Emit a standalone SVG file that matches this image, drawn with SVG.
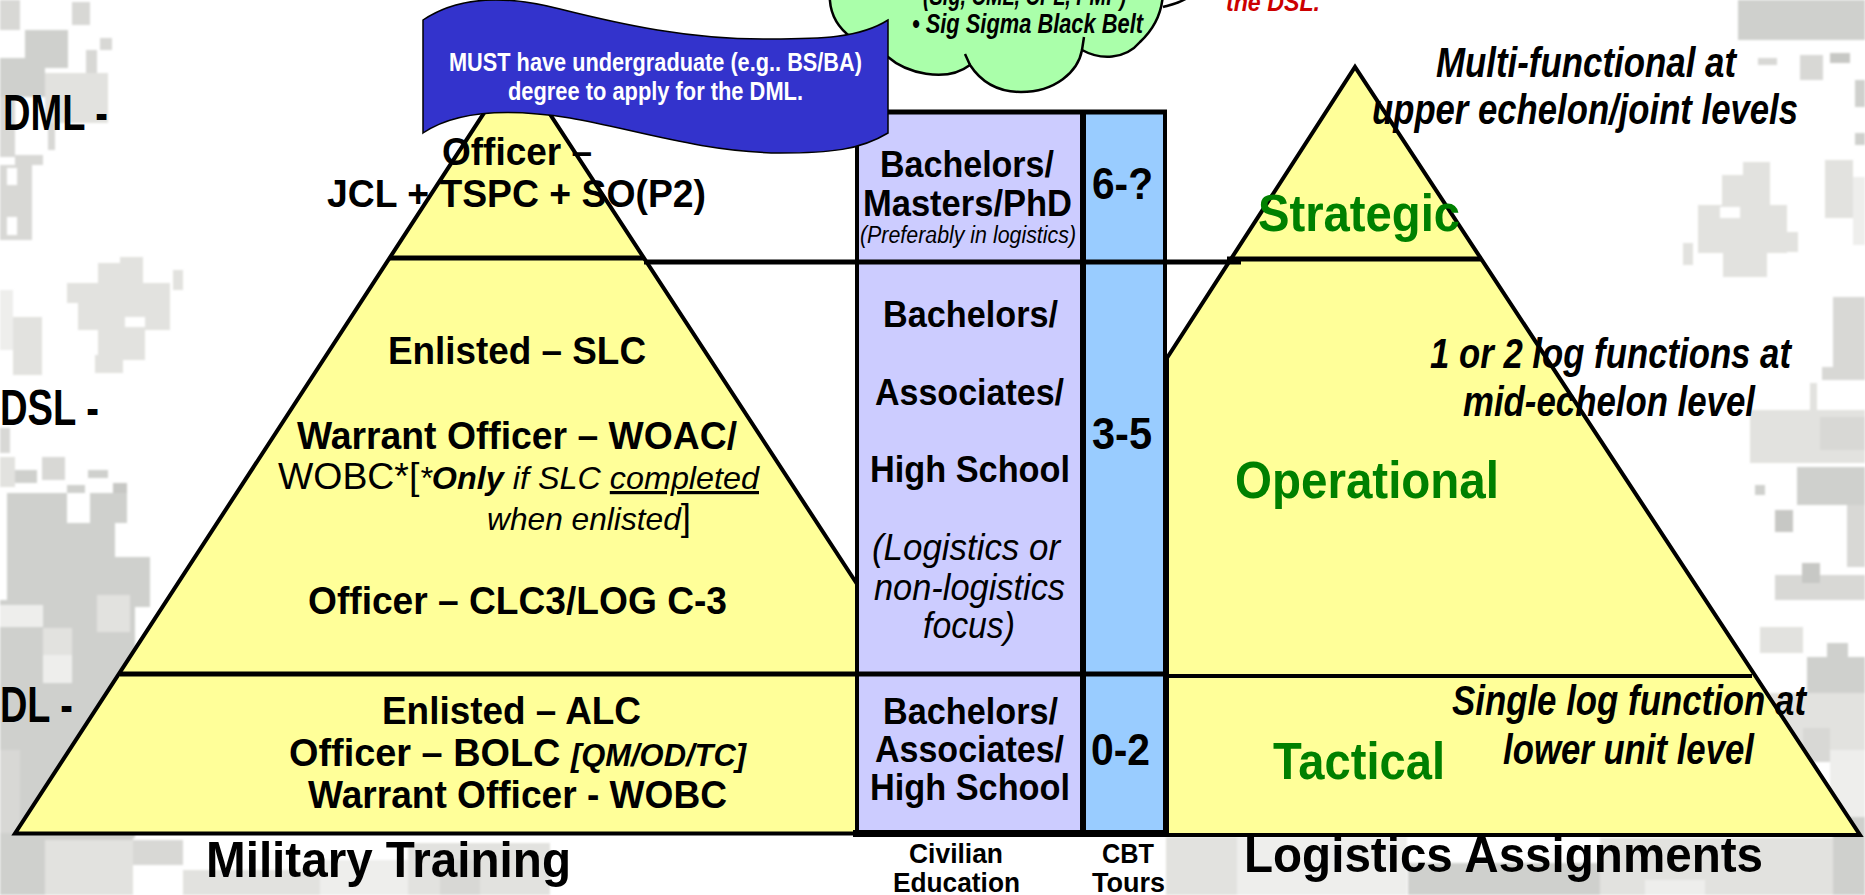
<svg xmlns="http://www.w3.org/2000/svg" width="1865" height="895" viewBox="0 0 1865 895">
<defs><filter id="soft" x="0" y="0" width="100%" height="100%"><feGaussianBlur stdDeviation="0.9"/></filter></defs>
<style>
text{font-family:"Liberation Sans",Arial,sans-serif;font-weight:700;fill:#000;white-space:pre}
.it{font-style:italic}
.reg{font-weight:400}
.gr{fill:#008000;font-size:52px}
.wh{fill:#fff;font-size:25px}
.b34{font-size:38px}
.b44{font-size:50px}
.b33{font-size:37px}
.i38{font-size:43px;font-style:italic}
.sh{stroke:#000;stroke-width:4;stroke-linejoin:miter}
.a{fill:#cfd0cd}.b{fill:#d8d8d5}.c{fill:#e2e2df}.d{fill:#eeeeec}.e{fill:#c7c8c5}.w{fill:#fff}
</style>
<rect width="1865" height="895" fill="#fff"/>
<g id="background" filter="url(#soft)">
<rect class="b" x="0" y="0" width="20" height="30"/><rect class="b" x="72" y="2" width="18" height="23"/>
<rect class="a" x="25" y="30" width="43" height="38"/><rect class="a" x="0" y="58" width="45" height="39"/>
<rect class="c" x="45" y="73" width="63" height="50"/><rect class="b" x="86" y="50" width="11" height="23"/><rect class="b" x="100" y="38" width="12" height="12"/>
<rect class="b" x="0" y="97" width="15" height="60"/><rect class="b" x="15" y="155" width="28" height="10"/><rect class="b" x="0" y="165" width="32" height="75"/>
<rect class="w" x="7" y="168" width="10" height="17"/><rect class="w" x="7" y="217" width="10" height="18"/><rect class="b" x="48" y="123" width="7" height="27"/>
<rect class="c" x="120" y="257" width="23" height="26"/><rect class="c" x="98" y="263" width="45" height="20"/><rect class="c" x="67" y="283" width="103" height="20"/>
<rect class="c" x="78" y="303" width="92" height="27"/><rect class="c" x="98" y="330" width="47" height="30"/><rect class="c" x="95" y="355" width="28" height="18"/>
<rect class="c" x="173" y="270" width="10" height="20"/><rect class="w" x="125" y="317" width="20" height="10"/>
<rect class="c" x="13" y="317" width="29" height="58"/><rect class="d" x="0" y="290" width="13" height="60"/><rect class="b" x="0" y="428" width="10" height="25"/>
<rect class="c" x="0" y="457" width="15" height="30"/><rect class="b" x="42" y="457" width="23" height="23"/><rect class="a" x="15" y="470" width="22" height="13"/>
<rect class="a" x="88" y="470" width="20" height="8"/><rect class="a" x="67" y="485" width="18" height="8"/><rect class="e" x="113" y="483" width="14" height="40"/>
<rect class="a" x="7" y="493" width="60" height="30"/><rect class="a" x="90" y="493" width="37" height="30"/>
<rect class="a" x="7" y="523" width="108" height="34"/><rect class="a" x="7" y="557" width="143" height="50"/><rect class="a" x="0" y="600" width="135" height="238"/>
<rect class="d" x="0" y="605" width="43" height="22"/><rect class="c" x="43" y="628" width="29" height="27"/><rect class="d" x="43" y="655" width="29" height="28"/>
<rect class="c" x="97" y="595" width="33" height="37"/><rect class="b" x="0" y="750" width="20" height="83"/>
<rect class="a" x="0" y="838" width="133" height="57"/><rect class="c" x="45" y="840" width="88" height="55"/><rect class="b" x="133" y="840" width="50" height="25"/>
<rect class="c" x="183" y="870" width="137" height="25"/><rect class="d" x="320" y="860" width="90" height="35"/><rect class="c" x="408" y="843" width="142" height="52"/><rect class="b" x="440" y="860" width="40" height="35"/>
<rect class="c" x="1166" y="837" width="71" height="58"/><rect class="d" x="1237" y="837" width="170" height="58"/><rect class="a" x="1408" y="863" width="237" height="32"/>
<rect class="c" x="1600" y="838" width="265" height="57"/><rect class="d" x="1645" y="880" width="60" height="15"/><rect class="a" x="1833" y="817" width="32" height="78"/>
<rect class="a" x="1738" y="0" width="127" height="40"/><rect class="b" x="1758" y="58" width="19" height="7"/><rect class="b" x="1800" y="55" width="23" height="25"/>
<rect class="e" x="1830" y="53" width="20" height="10"/><rect class="a" x="1855" y="80" width="10" height="27"/><rect class="a" x="1855" y="133" width="10" height="12"/>
<rect class="c" x="1743" y="162" width="27" height="15"/><rect class="c" x="1722" y="175" width="48" height="30"/><rect class="c" x="1698" y="205" width="89" height="48"/>
<rect class="c" x="1787" y="232" width="11" height="20"/><rect class="c" x="1723" y="253" width="44" height="24"/><rect class="c" x="1683" y="243" width="10" height="22"/><rect class="w" x="1720" y="207" width="20" height="11"/>
<rect class="c" x="1825" y="160" width="28" height="58"/><rect class="d" x="1853" y="177" width="12" height="68"/>
<rect class="b" x="1833" y="297" width="32" height="76"/><rect class="b" x="1822" y="367" width="43" height="13"/><rect class="c" x="1810" y="383" width="7" height="27"/>
<rect class="c" x="1750" y="410" width="115" height="53"/><rect class="b" x="1820" y="417" width="45" height="33"/>
<rect class="a" x="1797" y="467" width="68" height="38"/><rect class="b" x="1847" y="505" width="18" height="62"/><rect class="a" x="1755" y="485" width="10" height="10"/>
<rect class="e" x="1775" y="510" width="18" height="22"/><rect class="b" x="1775" y="575" width="90" height="25"/><rect class="e" x="1802" y="563" width="18" height="20"/>
<rect class="c" x="1760" y="627" width="43" height="26"/><rect class="a" x="1807" y="657" width="58" height="36"/><rect class="a" x="1827" y="643" width="21" height="14"/>
<rect class="c" x="1767" y="693" width="98" height="57"/><rect class="b" x="1803" y="728" width="27" height="34"/><rect class="d" x="1830" y="750" width="35" height="67"/>
</g>
<g id="cloud">
<path d="M830,-10C828,12 838,28 852,38C865,46 878,50 888,57C905,72 945,84 970,65C985,88 1005,92 1021,92C1055,92 1078,72 1082,50C1100,60 1125,60 1140,42C1155,28 1163,10 1163,-10Z" fill="#aaffaa" stroke="#000" stroke-width="2.5"/>
<path d="M965,54L970,65M1084,37L1082,50M1163,7C1170,5 1180,3 1187,-2" fill="none" stroke="#000" stroke-width="2.5"/>
<text class="it" x="923" y="5" font-size="27" textLength="203" lengthAdjust="spacingAndGlyphs">(Sig, CML, CPL, PMP)</text>
<text class="it" x="912" y="33" font-size="27" textLength="231" lengthAdjust="spacingAndGlyphs">• Sig Sigma Black Belt</text>
</g>
<text id="red-note" class="it" x="1226" y="11" font-size="26" textLength="94" lengthAdjust="spacingAndGlyphs" style="fill:#cc0000">the DSL.</text>
<g id="training-pyramid"><path class="sh" d="M15,833.5L857,833.5L857,584L516.5,63Z" fill="#ffff99"/></g>
<g id="assignments-pyramid"><path class="sh" d="M1167,358L1355,67L1860,835L1167,835Z" fill="#ffff99"/></g>
<g id="education-column"><rect x="857" y="112" width="226" height="722" fill="#ccccff"/></g>
<g id="tours-column"><rect x="1083" y="112" width="82" height="722" fill="#99ccff"/></g>
<g id="connectors" fill="none" stroke="#000">
<path d="M389,258H644" stroke-width="5"/>
<path d="M644,262H1241" stroke-width="5"/>
<path d="M1227,259H1482" stroke-width="5"/>
<path d="M120,674H1166" stroke-width="5"/>
<path d="M1166,676H1752" stroke-width="4"/>
<path d="M854,112H1167" stroke-width="5"/>
<path d="M857,110V834" stroke-width="4"/>
<path d="M1083,110V834" stroke-width="6"/>
<path d="M1165,110V836" stroke-width="4"/>
<path d="M853,833.5H1167" stroke-width="7"/>
</g>
<g id="banner">
<path d="M423,20C460,-5 510,-4 560,9C620,24 690,40 770,39C820,39 860,38 888,20L888,133C860,150 830,153 780,153C700,152 630,128 570,118C520,110 460,108 423,133Z" fill="#3333cc" stroke="#000" stroke-width="1.5"/>
<text class="wh" x="449" y="71" textLength="413" lengthAdjust="spacingAndGlyphs">MUST have undergraduate (e.g.. BS/BA)</text>
<text class="wh" x="508" y="100" textLength="295" lengthAdjust="spacingAndGlyphs">degree to apply for the DML.</text>
</g>
<g id="level-labels">
<text class="b44" x="3" y="130" textLength="105" lengthAdjust="spacingAndGlyphs">DML -</text>
<text class="b44" x="0" y="425" textLength="99" lengthAdjust="spacingAndGlyphs">DSL -</text>
<text class="b44" x="0" y="722" textLength="73" lengthAdjust="spacingAndGlyphs">DL -</text>
</g>
<g id="training-text">
<text class="b34" x="442" y="165" textLength="150" lengthAdjust="spacingAndGlyphs">Officer –</text>
<text class="b34" x="327" y="207" textLength="379" lengthAdjust="spacingAndGlyphs">JCL + TSPC + SO(P2)</text>
<text class="b34" x="388" y="364" textLength="258" lengthAdjust="spacingAndGlyphs">Enlisted – SLC</text>
<text class="b34" x="297" y="449" textLength="440" lengthAdjust="spacingAndGlyphs">Warrant Officer – WOAC/</text>
<text x="278" y="489" font-size="37" textLength="481" lengthAdjust="spacingAndGlyphs"><tspan class="reg">WOBC*[</tspan><tspan font-size="32" class="reg it">*</tspan><tspan font-size="32" class="it">Only</tspan><tspan font-size="32" class="reg it"> if SLC </tspan><tspan font-size="32" class="reg it" text-decoration="underline">completed</tspan></text>
<text x="487" y="530" font-size="32" class="reg it" textLength="204" lengthAdjust="spacingAndGlyphs">when enlisted<tspan font-style="normal" font-size="37">]</tspan></text>
<text class="b34" x="308" y="614" textLength="419" lengthAdjust="spacingAndGlyphs">Officer – CLC3/LOG C-3</text>
<text class="b34" x="382" y="724" textLength="259" lengthAdjust="spacingAndGlyphs">Enlisted – ALC</text>
<text class="b34" x="289" y="766" textLength="457" lengthAdjust="spacingAndGlyphs">Officer – BOLC <tspan class="it" font-size="31">[QM/OD/TC]</tspan></text>
<text class="b34" x="308" y="808" textLength="419" lengthAdjust="spacingAndGlyphs">Warrant Officer - WOBC</text>
<text class="b44" x="206" y="877" textLength="365" lengthAdjust="spacingAndGlyphs">Military Training</text>
</g>
<g id="education-text">
<text class="b33" x="880" y="177" textLength="174" lengthAdjust="spacingAndGlyphs">Bachelors/</text>
<text class="b33" x="863" y="216" textLength="209" lengthAdjust="spacingAndGlyphs">Masters/PhD</text>
<text class="reg it" x="860" y="243" font-size="23" textLength="216" lengthAdjust="spacingAndGlyphs">(Preferably in logistics)</text>
<text class="b33" x="883" y="327" textLength="175" lengthAdjust="spacingAndGlyphs">Bachelors/</text>
<text class="b33" x="875" y="405" textLength="189" lengthAdjust="spacingAndGlyphs">Associates/</text>
<text class="b33" x="870" y="482" textLength="200" lengthAdjust="spacingAndGlyphs">High School</text>
<text class="reg it" x="872" y="560" font-size="37" textLength="188" lengthAdjust="spacingAndGlyphs">(Logistics or</text>
<text class="reg it" x="874" y="600" font-size="37" textLength="191" lengthAdjust="spacingAndGlyphs">non-logistics</text>
<text class="reg it" x="923" y="638" font-size="37" textLength="92" lengthAdjust="spacingAndGlyphs">focus)</text>
<text class="b33" x="883" y="724" textLength="175" lengthAdjust="spacingAndGlyphs">Bachelors/</text>
<text class="b33" x="875" y="762" textLength="189" lengthAdjust="spacingAndGlyphs">Associates/</text>
<text class="b33" x="870" y="800" textLength="200" lengthAdjust="spacingAndGlyphs">High School</text>
<text x="909" y="863" font-size="27" textLength="94" lengthAdjust="spacingAndGlyphs">Civilian</text>
<text x="893" y="892" font-size="27" textLength="127" lengthAdjust="spacingAndGlyphs">Education</text>
</g>
<g id="tours-text">
<text x="1092" y="199" font-size="44" textLength="61" lengthAdjust="spacingAndGlyphs">6-?</text>
<text x="1092" y="449" font-size="44" textLength="60" lengthAdjust="spacingAndGlyphs">3-5</text>
<text x="1091" y="765" font-size="44" textLength="59" lengthAdjust="spacingAndGlyphs">0-2</text>
<text x="1102" y="863" font-size="27" textLength="52" lengthAdjust="spacingAndGlyphs">CBT</text>
<text x="1092" y="892" font-size="27" textLength="73" lengthAdjust="spacingAndGlyphs">Tours</text>
</g>
<g id="assignments-text">
<text class="i38" x="1436" y="77" textLength="300" lengthAdjust="spacingAndGlyphs">Multi-functional at</text>
<text class="i38" x="1372" y="124" textLength="426" lengthAdjust="spacingAndGlyphs">upper echelon/joint levels</text>
<text class="gr" x="1258" y="231" textLength="202" lengthAdjust="spacingAndGlyphs">Strategic</text>
<text class="i38" x="1430" y="368" textLength="361" lengthAdjust="spacingAndGlyphs">1 or 2 log functions at</text>
<text class="i38" x="1463" y="416" textLength="292" lengthAdjust="spacingAndGlyphs">mid-echelon level</text>
<text class="gr" x="1235" y="498" textLength="264" lengthAdjust="spacingAndGlyphs">Operational</text>
<text class="i38" x="1452" y="715" textLength="354" lengthAdjust="spacingAndGlyphs">Single log function at</text>
<text class="i38" x="1503" y="764" textLength="251" lengthAdjust="spacingAndGlyphs">lower unit level</text>
<text class="gr" x="1273" y="779" textLength="172" lengthAdjust="spacingAndGlyphs">Tactical</text>
<text class="b44" x="1244" y="872" textLength="519" lengthAdjust="spacingAndGlyphs">Logistics Assignments</text>
</g>
</svg>
